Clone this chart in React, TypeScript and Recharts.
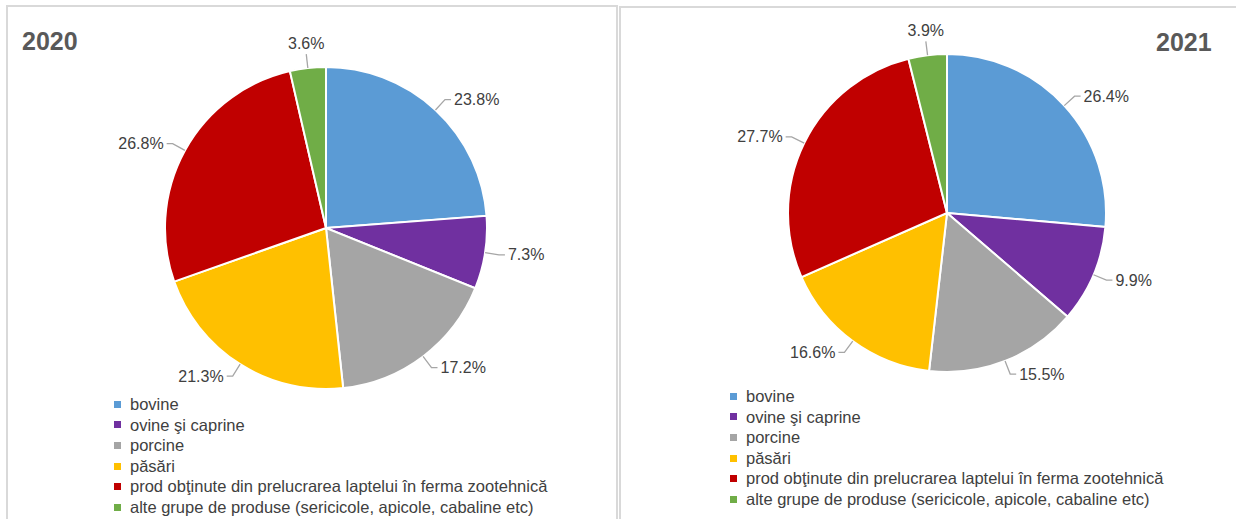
import React from 'react';
import { PieChart, Pie, Cell, Legend } from 'recharts';

const categories = [
  'bovine',
  'ovine şi caprine',
  'porcine',
  'păsări',
  'prod obţinute din prelucrarea laptelui în ferma zootehnică',
  'alte grupe de produse (sericicole, apicole, cabaline etc)',
];
const colors = ['#5B9BD5', '#7030A0', '#A5A5A5', '#FFC000', '#C00000', '#70AD47'];
const values2020 = [23.8, 7.3, 17.2, 21.3, 26.8, 3.6];
const values2021 = [26.4, 9.9, 15.5, 16.6, 27.7, 3.9];

const FONT = '"Liberation Sans", Arial, sans-serif';
const RAD = Math.PI / 180;

const toData = (vals: number[]) => categories.map((name, i) => ({ name, value: vals[i] }));

const renderLabel = (props: any) => {
  const { cx, cy, midAngle, outerRadius, value } = props;
  const cos = Math.cos(-midAngle * RAD);
  const sin = Math.sin(-midAngle * RAD);
  const x1 = cx + outerRadius * cos;
  const y1 = cy + outerRadius * sin;
  const x2 = cx + (outerRadius + 14) * cos;
  const y2 = cy + (outerRadius + 14) * sin;
  let anchor: 'start' | 'end' | 'middle' = 'middle';
  let x3 = x2;
  if (cos > 0.3) { anchor = 'start'; x3 = x2 + 6; }
  else if (cos < -0.3) { anchor = 'end'; x3 = x2 - 6; }
  const tx = anchor === 'start' ? x3 + 3 : anchor === 'end' ? x3 - 3 : x3;
  const ty = anchor === 'middle' ? (sin < 0 ? y2 - 11 : y2 + 11) : y2;
  return (
    <g>
      <polyline points={`${x1},${y1} ${x2},${y2} ${x3},${y2}`} stroke="#A6A6A6" strokeWidth={1.3} fill="none" />
      <text x={tx} y={ty} textAnchor={anchor} dominantBaseline="central" fill="#404040" fontSize={16} fontFamily={FONT}>
        {`${value.toFixed(1)}%`}
      </text>
    </g>
  );
};

// legend keeps the series order (no alphabetical sort)
const renderLegend = () => (
  <div style={{ fontFamily: FONT, fontSize: 16.5, color: '#404040', lineHeight: '20.6px' }}>
    {categories.map((name, i) => (
      <div key={name} style={{ display: 'flex', alignItems: 'center', whiteSpace: 'nowrap' }}>
        <span style={{ width: 7, height: 7, background: colors[i], display: 'inline-block', marginRight: 9 }} />
        {name}
      </div>
    ))}
  </div>
);

interface PanelProps {
  vals: number[];
  cx: number;
  cy: number;
  r: number;
  legendLeft: number;
  legendTop: number;
}

const PiePanel: React.FC<PanelProps> = ({ vals, cx, cy, r, legendLeft, legendTop }) => (
  <PieChart width={616} height={519} margin={{ top: 0, right: 0, bottom: 0, left: 0 }}>
    <Pie
      data={toData(vals)}
      dataKey="value"
      nameKey="name"
      cx={cx}
      cy={cy}
      outerRadius={r}
      startAngle={90}
      endAngle={-270}
      stroke="#FFFFFF"
      strokeWidth={2}
      label={renderLabel}
      labelLine={false}
      isAnimationActive={false}
    >
      {vals.map((_, i) => (
        <Cell key={i} fill={colors[i]} />
      ))}
    </Pie>
    <Legend
      layout="vertical"
      content={renderLegend}
      wrapperStyle={{ left: legendLeft, top: legendTop, width: 'auto' }}
    />
  </PieChart>
);

export default function App() {
  return (
    <div style={{ position: 'absolute', left: 0, top: 0, width: 1236, height: 519, background: '#fff', overflow: 'hidden' }}>
      <div style={{ position: 'absolute', left: 6, top: 5, width: 612, height: 530, border: '2px solid #D9D9D9', boxSizing: 'border-box' }} />
      <div style={{ position: 'absolute', left: 619, top: 6, width: 640, height: 530, border: '2px solid #D9D9D9', boxSizing: 'border-box' }} />
      <div style={{ position: 'absolute', left: 0, top: 0 }}>
        <PiePanel vals={values2020} cx={326} cy={228} r={161} legendLeft={114} legendTop={394} />
      </div>
      <div style={{ position: 'absolute', left: 620, top: 0 }}>
        <PiePanel vals={values2021} cx={327} cy={213} r={159} legendLeft={110} legendTop={386} />
      </div>
      <div style={{ position: 'absolute', left: 22, top: 27, fontFamily: FONT, fontWeight: 'bold', fontSize: 25, color: '#595959' }}>2020</div>
      <div style={{ position: 'absolute', left: 1156, top: 28, fontFamily: FONT, fontWeight: 'bold', fontSize: 25, color: '#595959' }}>2021</div>
    </div>
  );
}
